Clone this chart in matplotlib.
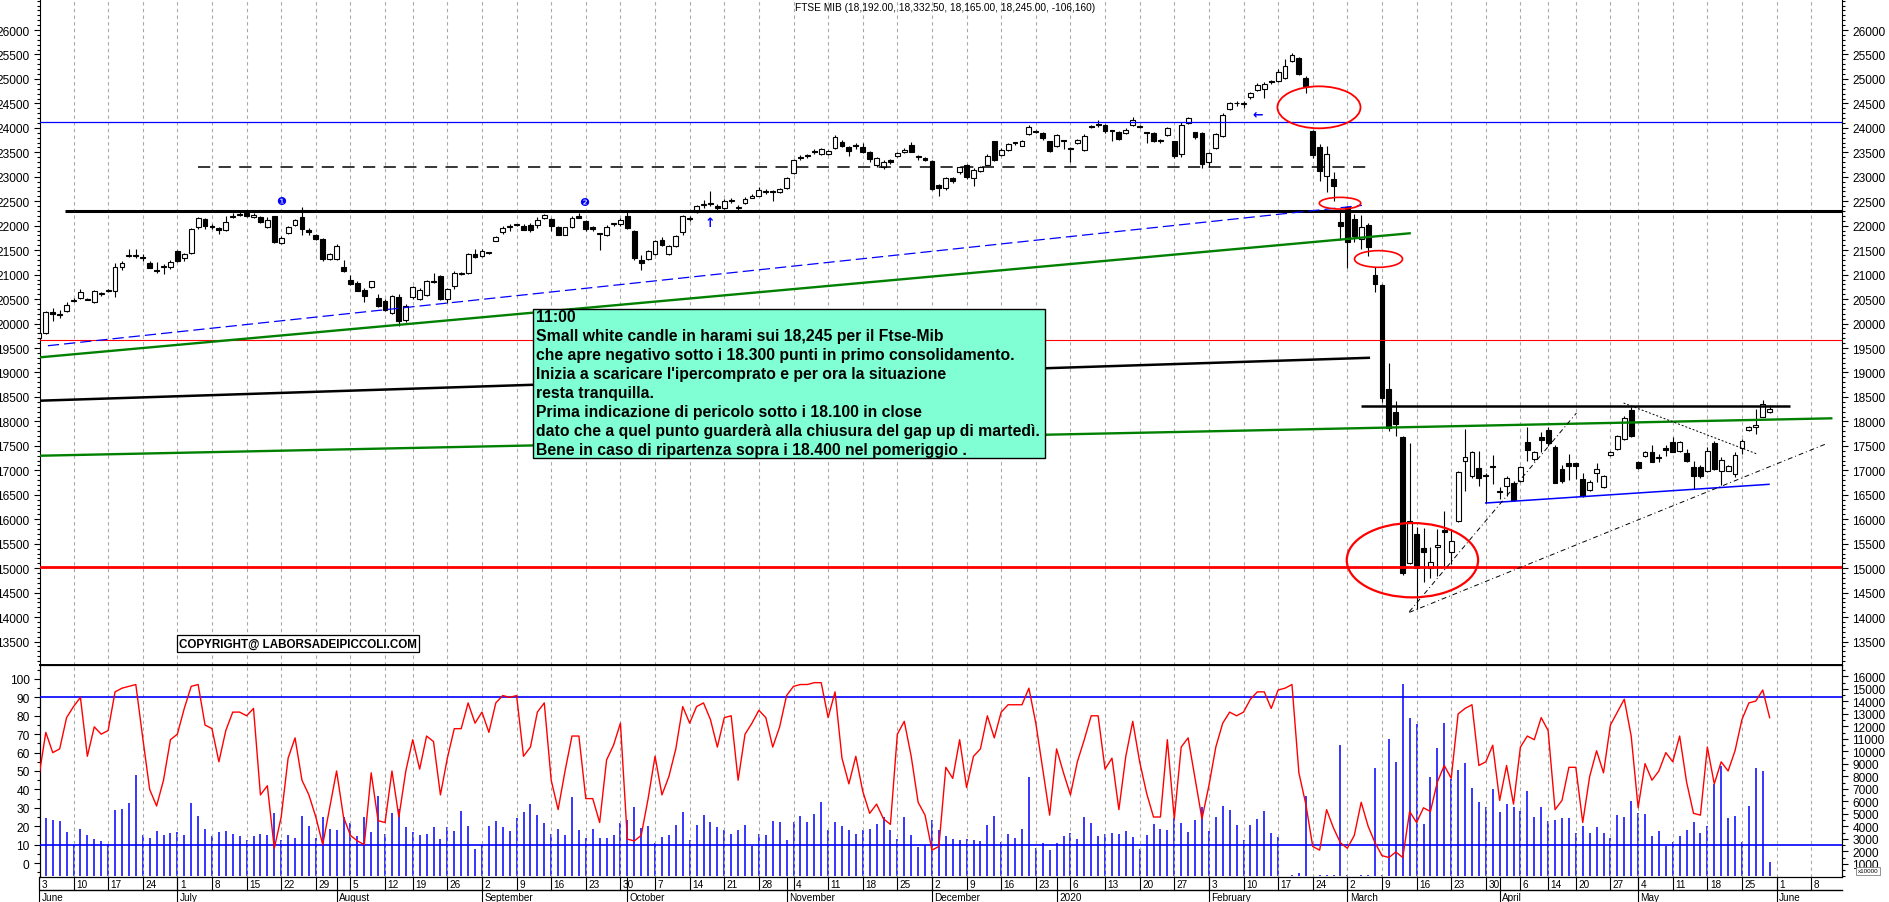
import matplotlib
matplotlib.use("Agg")
import matplotlib.pyplot as plt
import numpy as np
import pandas as pd
from matplotlib.patches import Ellipse, Rectangle
from matplotlib.ticker import MultipleLocator

plt.rcParams["font.family"] = ["Liberation Sans", "DejaVu Sans"]

# Borsa Italiana closing days inside the range
holidays = ["2019-08-15", "2019-12-24", "2019-12-25", "2019-12-26", "2019-12-31",
            "2020-01-01", "2020-04-10", "2020-04-13", "2020-05-01"]

opens = [
    19700, 19803, 20245, 20200, 20266, 20470, 20517, 20500, 20450, 20610,
    20660, 20670, 21150, 21390, 21390, 21340, 21230, 21100, 21150, 21150,
    21490, 21335, 21437, 21969, 22140, 21990, 21950, 21915, 22180, 22220,
    22250, 22170, 22170, 21970, 22195, 21640, 21850, 22020, 22170, 21915,
    21810, 21730, 21320, 21320, 21165, 20890, 20830, 20690, 20743, 20518,
    20470, 20220, 20545, 20082, 20538, 20500, 20586, 20860, 20980, 20505,
    20763, 21020, 21030, 21417, 21390, 21445, 21690, 21866, 21982, 22016,
    22000, 22016, 22016, 22152, 22140, 21980, 21820, 21982, 22195, 22100,
    21970, 21825, 21810, 22030, 22025, 22195, 21900, 21300, 21321, 21423,
    21709, 21423, 21580, 21866, 22150, 22275, 22420, 22440, 22411, 22363,
    22510, 22370, 22465, 22574, 22615, 22717, 22717, 22683, 22765, 23072,
    23380, 23420, 23535, 23460, 23460, 23589, 23705, 23603, 23640, 23609,
    23514, 23248, 23194, 23337, 23419, 23500, 23650, 23432, 23385, 23317,
    22840, 22765, 22981, 23092, 23241, 22976, 23112, 23248, 23725, 23439,
    23555, 23690, 23637, 23875, 23930, 23889, 23725, 23637, 23730, 23580,
    23691, 23555, 24045, 24060, 24066, 23945, 23909, 23889, 24059, 24045,
    23900, 23896, 23740, 23861, 23725, 23466, 24093, 23909, 23896, 23296,
    23589, 23841, 24386, 24500, 24490, 24624, 24781, 24794, 24964, 24964,
    25012, 25373, 25428, 25019, 23942, 23603, 23010, 22955, 22070, 22376,
    22137, 21728, 22015, 20993, 20788, 18663, 18185, 17674, 15099, 15699,
    15412, 14997, 15426, 15780, 15324, 15971, 17200, 16877, 17041, 16900,
    17095, 16584, 16673, 16741, 16789, 17572, 17231, 17674, 17824, 17470,
    17027, 17143, 17143, 16823, 16604, 16945, 16652, 17321, 17437, 17641,
    18234, 17164, 17301, 17368, 17260, 17457, 17587, 17403, 17348, 17062,
    17062, 16994, 17560, 16994, 16994, 16926, 17450, 17825, 17880, 18097,
    18192,
]
highs = [
    19850, 20260, 20310, 20280, 20450, 20530, 20700, 20520, 20680, 20650,
    20700, 21240, 21270, 21520, 21520, 21420, 21280, 21250, 21210, 21290,
    21500, 21440, 21950, 22180, 22160, 22030, 21980, 22200, 22250, 22290,
    22290, 22250, 22200, 22180, 22200, 21780, 22000, 22140, 22380, 21950,
    21830, 21740, 21450, 21620, 21290, 21000, 20880, 20720, 20880, 20600,
    20500, 20590, 20600, 20400, 20770, 20720, 20900, 21030, 20990, 20720,
    21080, 21060, 21440, 21530, 21530, 21460, 21790, 21990, 22040, 22030,
    22030, 22060, 22180, 22240, 22160, 22000, 21980, 22190, 22260, 22120,
    21990, 21830, 22020, 22060, 22160, 22300, 21920, 21400, 21500, 21700,
    21760, 21600, 21800, 22220, 22200, 22420, 22530, 22700, 22440, 22540,
    22560, 22420, 22580, 22650, 22790, 22750, 22740, 22780, 22990, 23370,
    23440, 23470, 23560, 23590, 23550, 23850, 23760, 23620, 23700, 23700,
    23530, 23400, 23340, 23360, 23510, 23580, 23720, 23450, 23400, 23340,
    22860, 22990, 23000, 23220, 23260, 23180, 23220, 23460, 23740, 23580,
    23690, 23720, 23760, 24050, 23960, 23910, 23740, 23880, 23760, 23600,
    23780, 23870, 24060, 24170, 24080, 23960, 23930, 23990, 24230, 24060,
    23920, 23910, 23780, 24020, 23740, 24120, 24230, 23920, 23920, 23510,
    23900, 24300, 24530, 24540, 24540, 24740, 24920, 24930, 24980, 25200,
    25407, 25530, 25440, 25050, 23950, 23670, 23630, 23091, 22290, 22400,
    22240, 22220, 22055, 21150, 20800, 19194, 18424, 17700, 17558, 15836,
    15814, 15426, 15800, 16175, 15801, 16990, 17845, 17400, 17402, 16950,
    17313, 16652, 16891, 16790, 17080, 17879, 17400, 17777, 17880, 17518,
    17100, 17334, 17160, 16940, 16800, 17160, 16900, 17400, 17720, 18104,
    18290, 17200, 17400, 17518, 17334, 17518, 17675, 17590, 17437, 17190,
    17100, 17470, 17607, 17270, 17110, 17370, 17641, 17900, 18254, 18438,
    18332.5,
]
lows = [
    19650, 19790, 20060, 20120, 20230, 20440, 20500, 20480, 20420, 20570,
    20640, 20550, 21100, 21370, 21350, 21280, 21140, 21030, 21020, 21120,
    21250, 21280, 21430, 21940, 21940, 21940, 21840, 21900, 22160, 22200,
    22180, 22150, 22050, 21950, 21650, 21620, 21840, 22000, 21820, 21820,
    21700, 21280, 21290, 21300, 21060, 20780, 20660, 20440, 20720, 20330,
    20250, 20200, 19960, 20040, 20500, 20480, 20560, 20830, 20480, 20420,
    20700, 21000, 21020, 21340, 21370, 21420, 21680, 21840, 21900, 22000,
    21910, 21880, 21950, 22140, 21900, 21820, 21800, 21960, 22150, 21900,
    21900, 21500, 21790, 22000, 22000, 21930, 21300, 21100, 21300, 21400,
    21590, 21400, 21560, 21800, 22100, 22250, 22370, 22400, 22330, 22350,
    22470, 22320, 22440, 22560, 22600, 22650, 22500, 22660, 22750, 23050,
    23340, 23380, 23470, 23440, 23440, 23560, 23600, 23430, 23560, 23480,
    23300, 23200, 23160, 23270, 23400, 23490, 23500, 23350, 23330, 22720,
    22600, 22740, 22880, 23060, 22960, 22820, 23090, 23230, 23330, 23420,
    23530, 23650, 23620, 23860, 23900, 23760, 23500, 23610, 23570, 23300,
    23670, 23530, 24000, 24020, 23900, 23740, 23750, 23870, 24040, 24000,
    23690, 23720, 23700, 23840, 23380, 23400, 24080, 23780, 23180, 23200,
    23570, 23820, 24370, 24450, 24400, 24600, 24760, 24620, 24900, 24940,
    24990, 25350, 25090, 24713, 23377, 22920, 22679, 22510, 21710, 21140,
    21660, 21530, 21390, 20650, 18400, 17800, 17708, 14870, 15080, 14166,
    14711, 14799, 14847, 15051, 15085, 15950, 16584, 16850, 16673, 16332,
    16721, 16414, 16482, 16380, 16760, 17197, 17200, 17368, 17500, 16734,
    16750, 16802, 16823, 16450, 16580, 16770, 16630, 17300, 17420, 17620,
    17675, 17030, 17280, 17164, 17178, 17300, 17370, 17380, 17178, 16620,
    16850, 16960, 17000, 16690, 16980, 16860, 17335, 17800, 17743, 18084,
    18165,
]
closes = [
    19800, 20245, 20200, 20170, 20382, 20490, 20640, 20490, 20660, 20627,
    20670, 21150, 21230, 21390, 21400, 21335, 21145, 21083, 21165, 21250,
    21275, 21417, 21935, 22150, 22000, 21982, 21915, 22070, 22200, 22220,
    22195, 22220, 22085, 22120, 21660, 21757, 21967, 22120, 21935, 21880,
    21730, 21320, 21423, 21594, 21076, 20804, 20670, 20572, 20865, 20354,
    20280, 20573, 20060, 20368, 20742, 20688, 20865, 20845, 20505, 20709,
    21035, 21030, 21417, 21355, 21478, 21445, 21770, 21960, 21982, 22016,
    21915, 21915, 22120, 22220, 22000, 21820, 21970, 22165, 22155, 21935,
    21935, 21825, 21970, 22030, 22125, 21950, 21335, 21240, 21478, 21682,
    21614, 21580, 21784, 22193, 22140, 22397, 22430, 22460, 22356, 22513,
    22513, 22370, 22547, 22615, 22731, 22683, 22683, 22751, 22969, 23344,
    23378, 23419, 23500, 23569, 23528, 23821, 23637, 23521, 23630, 23500,
    23364, 23378, 23303, 23296, 23487, 23548, 23514, 23398, 23351, 22752,
    22772, 22974, 22906, 23194, 22990, 23146, 23194, 23426, 23350, 23555,
    23664, 23684, 23739, 24025, 23923, 23787, 23534, 23855, 23725, 23575,
    23752, 23841, 24018, 24059, 23930, 23943, 23773, 23964, 24168, 24025,
    23889, 23739, 23739, 23991, 23419, 24059, 24202, 23807, 23262, 23487,
    23875, 24263, 24501, 24501, 24501, 24712, 24876, 24896, 24930, 25148,
    25257, 25496, 25108, 24849, 23445, 23124, 23460, 22818, 22000, 21673,
    21783, 21967, 21571, 20815, 18472, 17859, 17947, 14901, 15957, 14997,
    15324, 15120, 15474, 15746, 15562, 16959, 17266, 17368, 16836, 16891,
    17061, 16550, 16836, 16400, 17061, 17422, 17381, 17627, 17558, 16734,
    16789, 17082, 17082, 16482, 16768, 17027, 16877, 17382, 17695, 18077,
    17709, 17042, 17382, 17164, 17260, 17423, 17382, 17573, 17198, 16878,
    16878, 17403, 17028, 17219, 17096, 17314, 17607, 17880, 17927, 18356,
    18245,
]
oscillator = [
    47, 71, 60, 62, 79, 85, 90, 58, 74, 70, 72, 93, 95, 96, 97, 68, 40, 31, 45, 67,
    70, 84, 96, 97, 75, 73, 55, 72, 82, 82, 80, 84, 37, 42, 8, 25, 57, 68, 45, 37,
    25, 10, 30, 50, 25, 15, 12, 10, 49, 23, 22, 50, 25, 50, 67, 51, 69, 66, 37, 57,
    73, 73, 87, 76, 82, 71, 87, 91, 90, 91, 58, 63, 82, 87, 45, 29, 50, 69, 69, 35,
    35, 22, 56, 64, 76, 13, 12,
    15, 35, 58, 37, 47, 62, 85, 76, 85, 87, 78, 63, 79, 80, 45, 70, 76, 83, 79, 63,
    74, 91, 96, 97, 97, 98, 98, 79, 93, 57, 43, 58, 39, 27, 32, 24, 21, 70, 77, 58,
    33, 26, 7, 9, 52, 46, 67, 41, 58, 62, 80, 68, 82, 86, 86, 86, 95, 76, 51, 26,
    62, 49, 37, 55, 67, 80, 80, 51, 57, 29, 58, 77, 55, 38, 25, 25, 67, 24, 63, 68,
    46, 24, 42, 63, 76, 82, 80, 82, 89, 93, 93, 84, 94,
    95, 97, 49, 32, 9, 7, 29, 19, 11, 8, 15, 33, 20, 11, 4, 3, 6, 3, 28, 22,
    30, 28, 44, 53, 46, 81, 84, 86, 53, 55, 64, 34, 53, 32, 63, 69, 67, 79, 72, 29,
    34, 52, 52, 22, 47, 61, 49, 75, 82, 89, 69, 30, 54, 45, 50, 60, 55, 69, 44, 27,
    26, 63, 43, 55, 50, 61, 78, 87, 88, 94, 79,
]
# volume in units of 10000, as on the right scale
volume = [
    4000,
    4675, 4515, 4435, 3557, 2517, 3796, 3317, 2997, 2837, 2600,
    5317, 5397, 5877, 8115, 3317, 3077, 3636, 3317, 3477, 3557,
    3317, 5877, 4835, 3796, 3237, 3557, 3636, 3397, 3237, 2917,
    3237, 3397, 3317, 5075, 2917, 3317, 3077, 4835, 4036, 3077,
    4755, 3796, 3716, 4755, 4276, 3237, 4755, 3557, 6433, 3370,
    5100, 5397, 3956, 3557, 3317, 3423, 3983, 2997, 3983, 3636,
    5237, 4036, 2224, 2544, 4036, 4435, 3956, 3636, 4675, 5184,
    5797, 4941, 4276, 3397, 3796, 3317, 6353, 3716, 3077, 3796,
    3077, 3077, 3317, 4276, 4515, 5583,
    3850, 4063, 2677, 3184, 3343, 4143, 5184, 2944, 4143, 4941,
    4382, 3983, 3743, 3423, 3716, 4143, 2464, 3400, 3343, 4462,
    4382, 2917, 4382, 4862, 4382, 4995, 5981, 3716, 4382, 4063,
    3716, 3397, 3716, 3796, 4223, 4728, 3716, 2997, 4755, 3343,
    2384, 2544, 4515, 3716, 3264, 2997, 2917, 2997, 2917, 2864,
    4116, 4862, 2784, 3397, 3077, 3796, 7952, 2278, 2651, 2118,
    2651, 3264, 3477, 2997, 4755, 4276, 3264, 3423, 3503, 3397,
    3636, 3184, 2198, 3317, 4223, 3796, 3716, 4675, 4276, 3557,
    4515, 5583, 3636, 4755, 5636, 5317, 4143, 2944, 4143, 4595,
    5237, 3477, 3157,
    50, 150, 250, 6400, 0, 120, 120, 120, 10510, 100,
    50, 100, 150, 8671, 80, 10989, 9124, 15384, 12668, 12162,
    4200, 7979, 10243, 12268, 7792, 8511, 9071, 7073, 5928, 5556,
    6993, 5183, 5796, 5530, 5263, 6806, 4782, 5583, 4410, 4542,
    4650, 4702, 3450, 4063, 3503, 3956, 3477, 3050, 4914, 4782,
    6007, 5050, 4969, 3237, 3610, 2464, 2731, 3264, 3716, 4329,
    3477, 4063, 7393, 8805, 4675, 4835, 2731, 5636, 8698, 8405,
    1133,
]

title = "FTSE MIB (18,192.00, 18,332.50, 18,165.00, 18,245.00, -106,160)"
note_lines = [
    "11:00",
    "Small white candle in harami sui 18,245 per il Ftse-Mib",
    "che apre negativo sotto i 18.300 punti in primo consolidamento.",
    "Inizia a scaricare l'ipercomprato e per ora la situazione",
    "resta tranquilla.",
    "Prima indicazione di pericolo sotto i 18.100 in close",
    "dato che a quel punto guarderà alla chiusura del gap up di martedì.",
    "Bene in caso di ripartenza sopra i 18.400 nel pomeriggio .",
]
month_names = {1: "2020", 2: "February", 3: "March", 4: "April", 5: "May",
               6: "June", 7: "July", 8: "August", 9: "September",
               10: "October", 11: "November", 12: "December"}

# trading-day calendar: bar index is the x coordinate
hist = pd.bdate_range("2019-06-03", "2020-05-29")
hist = hist[~hist.isin(pd.to_datetime(holidays))]
days = hist.append(pd.bdate_range("2020-06-01", "2020-06-12"))
x = np.arange(len(hist))
o, h, l, c = (np.array(v, dtype=float) for v in (opens, highs, lows, closes))

W, H = 1890, 903
XMIN, XMAX = 0.16, 260.45


def rect(x0, y0, x1, y1):
    return [x0 / W, 1 - y1 / H, (x1 - x0) / W, (y1 - y0) / H]


fig = plt.figure(figsize=(W / 100, H / 100), dpi=100)
ax = fig.add_axes(rect(40, 0, 1842, 666))
axl = fig.add_axes(rect(40, 666, 1842, 878))
axv = axl.twinx()
axl.set_zorder(axv.get_zorder() + 1)
axl.patch.set_visible(False)

# first trading day of each week (the week holding new year carries no label)
week_first = []
seen = set()
for i, d in enumerate(days):
    key = (d.isocalendar()[0], d.isocalendar()[1])
    if key not in seen:
        seen.add(key)
        if d != pd.Timestamp("2019-12-30"):
            week_first.append(i)
month_first = [i for i in range(len(days)) if i == 0 or days[i].month != days[i - 1].month]

grid_kw = dict(color="#a8a8a8", lw=0.8, linestyle=(0, (3, 3)), zorder=1)
for i in week_first:
    ax.axvline(i, **grid_kw)
    axl.axvline(i, **grid_kw)

# --- price panel ---
up = c >= o
lo_b = np.minimum(o, c)
hb = np.maximum(np.abs(c - o), 18)
ax.vlines(x, l, h, color="black", lw=0.8, zorder=3)
ax.bar(x[up], hb[up], bottom=lo_b[up], width=0.7, facecolor="white",
       edgecolor="black", lw=0.8, zorder=4)
ax.bar(x[~up], hb[~up], bottom=lo_b[~up], width=0.7, facecolor="black",
       edgecolor="black", lw=0.8, zorder=4)

ax.axhline(24130, color="#0000ff", lw=0.9, zorder=5)
ax.axhline(19655, color="#ff0000", lw=0.8, zorder=5)
ax.axhline(15025, color="#ff0000", lw=2.0, zorder=5)
ax.hlines(22300, 3.8, XMAX, color="black", lw=2.2, zorder=5)
ax.hlines(23210, 23.0, 192.0, color="black", lw=1.1, linestyle=(0, (8, 5.5)), zorder=5)
ax.plot([1.3, 191.1], [19547, 22415], color="#0000ff", lw=0.9,
        linestyle=(0, (9, 4)), zorder=5)
ax.plot([XMIN, 198.0], [19310, 21845], color="#008000", lw=1.7, zorder=5)
ax.plot([0.27, 192.1], [18424, 19300], color="black", lw=1.8, zorder=5)
ax.plot([0.27, 258.9], [17299, 18063], color="#008000", lw=1.7, zorder=5)
ax.hlines(18322, 190.9, 252.9, color="black", lw=1.8, zorder=5)
ax.plot([209.0, 249.9], [16332, 16714], color="#0000ff", lw=1.1, zorder=5)
dd = dict(color="black", lw=0.7, linestyle=(0, (5, 3, 1, 3)), zorder=5)
ax.plot([197.95, 222.1], [14111, 18172], **dd)
ax.plot([197.95, 258.1], [14097, 17538], **dd)
ax.plot([228.9, 248.3], [18376, 17328], color="black", lw=0.7,
        linestyle=(0, (2, 2)), zorder=5)

for cx, cy, ew, eh, lw in [(184.9, 24420, 12.0, 858, 1.3),
                           (187.94, 22460, 5.98, 239, 1.2),
                           (193.5, 21320, 6.93, 341, 1.2),
                           (198.4, 15163, 18.97, 1519, 1.6)]:
    ax.add_patch(Ellipse((cx, cy), ew, eh, fill=False, edgecolor="#ff0000",
                         lw=lw, zorder=6))

for xi, yi, s in [(34.94, 22511, "\u2776"), (78.8, 22478, "\u2777")]:
    ax.text(xi, yi, s, color="#0000ff", fontsize=8, ha="center", va="center",
            family="DejaVu Sans", zorder=6)
ax.text(96.9, 22056, "\u2191", color="#0000ff", fontsize=9, fontweight="bold",
        ha="center", va="center", family="DejaVu Sans", zorder=6)
ax.text(176.1, 24283, "\u2190", color="#0000ff", fontsize=9, fontweight="bold",
        ha="center", va="center", family="DejaVu Sans", zorder=6)

ax.add_patch(Rectangle((0.2734, 0.3108), 0.2843, 0.2237, transform=ax.transAxes,
                       facecolor="#80ffd4", edgecolor="black", lw=1.0, zorder=8))
for k, line in enumerate(note_lines):
    ax.text(0.2753, 0.523 - k * 0.02853, line, transform=ax.transAxes,
            fontsize=11.3, fontweight="bold", ha="left", va="center", zorder=9)

ax.text(0.1432, 0.032, "COPYRIGHT@ LABORSADEIPICCOLI.COM", transform=ax.transAxes,
        fontsize=8.4, fontweight="bold", ha="center", va="center", zorder=9,
        bbox=dict(boxstyle="square,pad=0.2", facecolor="white", edgecolor="black", lw=0.9))
ax.text(0.5022, 0.9875, title, transform=ax.transAxes, fontsize=7.3,
        ha="center", va="center", zorder=9)

ax.set_xlim(XMIN, XMAX)
ax.set_ylim(13021, 26634)
ax.set_yticks(list(range(13500, 26001, 500)))
ax.yaxis.set_minor_locator(MultipleLocator(100))
ax.tick_params(axis="y", which="both", direction="out", right=True, labelright=True,
               labelsize=8.6, width=0.8)
ax.tick_params(axis="y", which="major", length=4)
ax.tick_params(axis="y", which="minor", length=2)
ax.tick_params(axis="x", which="both", bottom=False, labelbottom=False)
ax.spines["top"].set_visible(False)

# --- oscillator / volume panel ---
axv.vlines(x, 0, volume, color="#0000ff", lw=1.1)
axl.plot(x, oscillator, color="#ff0000", lw=1.0, zorder=4)
axl.axhline(90, color="#0000ff", lw=1.2, zorder=3)
axl.axhline(10, color="#0000ff", lw=1.2, zorder=3)
axl.set_xlim(XMIN, XMAX)
axv.set_xlim(XMIN, XMAX)
axl.set_ylim(-7.6, 107.6)
axv.set_ylim(-40, 16903)
axl.set_yticks(range(0, 101, 10))
axl.yaxis.set_minor_locator(MultipleLocator(5))
axv.set_yticks(range(1000, 16001, 1000))
axv.yaxis.set_minor_locator(MultipleLocator(500))
for a in (axl, axv):
    a.tick_params(axis="y", which="both", direction="out", labelsize=8.6, width=0.8)
    a.tick_params(axis="y", which="major", length=4)
    a.tick_params(axis="y", which="minor", length=2)
    a.tick_params(axis="x", which="both", bottom=False, labelbottom=False)
axl.spines["top"].set_linewidth(1.4)

# date strip under the lower panel
tr = axl.get_xaxis_transform()
axl.plot([XMIN, XMAX], [-0.0613, -0.0613], transform=tr, color="black", lw=1.0,
         clip_on=False)
for i in week_first:
    if i > XMAX:
        continue
    axl.plot([i, i], [0, -0.0613], transform=tr, color="black", lw=0.8, clip_on=False)
    axl.text(i + 0.35, -0.033, str(days[i].day), transform=tr, fontsize=7.2,
             ha="left", va="center", clip_on=False)
for i in month_first:
    if i > XMAX:
        continue
    axl.plot([i, i], [0, -0.118], transform=tr, color="black", lw=0.8, clip_on=False)
    axl.text(i + 0.35, -0.096, month_names[days[i].month], transform=tr, fontsize=7.2,
             ha="left", va="center", clip_on=False)

fig.text(1868 / W, 1 - 872 / H, "x10000", fontsize=4.5, ha="center", va="center",
         bbox=dict(boxstyle="square,pad=0.2", facecolor="white", edgecolor="#808080", lw=0.6))

fig.savefig("out.png", dpi=100)
